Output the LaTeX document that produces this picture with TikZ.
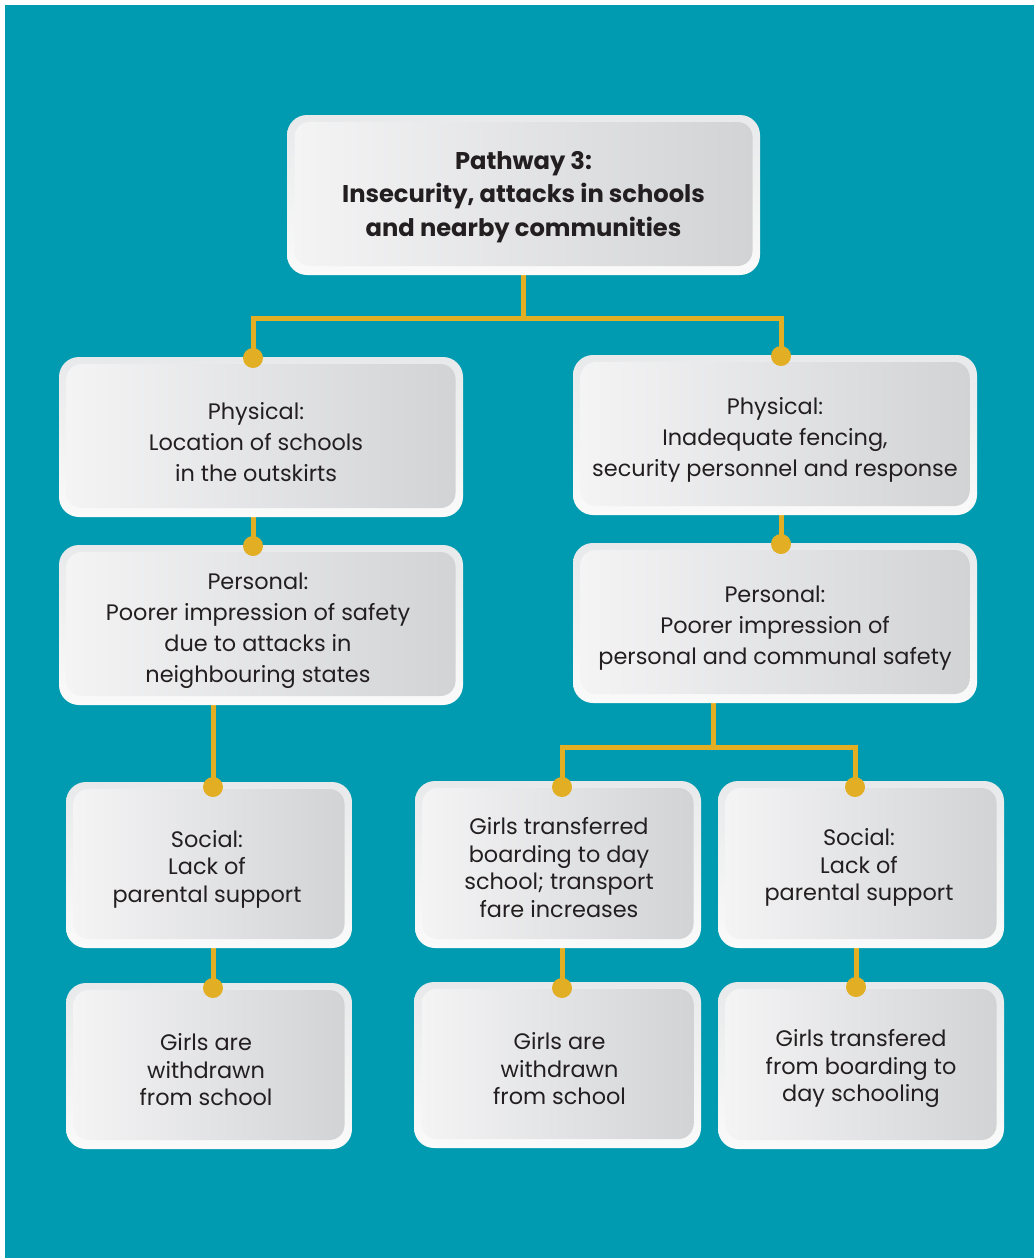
\documentclass[tikz,border=0pt]{standalone}
\usepackage{fontspec}
\setmainfont{Poppins}
\usetikzlibrary{calc}
\definecolor{teal}{HTML}{009BB0}
\definecolor{gold}{HTML}{E2AF24}
\definecolor{rimtop}{HTML}{E8E9EA}
\definecolor{rimbot}{HTML}{FAFAFA}
\definecolor{coreL}{HTML}{F4F4F5}
\definecolor{coreM}{HTML}{E5E6E7}
\definecolor{coreR}{HTML}{D2D3D5}
\definecolor{ink}{HTML}{231F20}
\tikzset{
  rim/.style={rounded corners=10pt, top color=rimtop, bottom color=rimbot, draw=none, inner sep=0pt},
  core/.style={rounded corners=7.5pt, left color=coreL, middle color=coreM, right color=coreR, draw=none, inner sep=0pt},
  txt/.style={text=ink, align=center, font=\fontsize{11.2}{15.5}\selectfont, inner sep=0pt},
  txtb/.style={text=ink, align=center, font=\fontsize{11.2}{13.75}\selectfont, inner sep=0pt},
  ttl/.style={text=ink, align=center, font=\fontsize{12.1}{16.8}\selectfont\bfseries, inner sep=0pt},
  link/.style={draw=gold, line width=2.5pt, line join=miter},
  dot/.style={circle, fill=gold, minimum size=10pt, inner sep=0pt, draw=none},
}
\newcommand\pbox[9]{% name, cx, cy, w, h, style, text dx, text dy, text
  \node[rim, minimum width={#4*0.5pt}, minimum height={#5*0.5pt}] (#1) at (#2,#3) {};
  \node[core, minimum width={(#4-15)*0.5pt}, minimum height={(#5-16)*0.5pt}] (#1i) at (#2,#3-1) {};
  \node[#6] (#1t) at (#2+#7,#3+#8) {#9};
}
\begin{document}
\begin{tikzpicture}[x=0.5pt,y=-0.5pt]
\useasboundingbox (0,0) rectangle (1034,1258);
\fill[white] (0,0) rectangle (1034,1258);
\fill[teal] (5,5) rectangle (1034,1258);

% coordinates for dots and junctions
\coordinate (jA) at (523,318);
\coordinate (jB) at (713,747);
\coordinate (dL1) at (253,358);
\coordinate (dR1) at (781,356);
\coordinate (dL2) at (253,546);
\coordinate (dR2) at (781,544);
\coordinate (dL3) at (213,787);
\coordinate (dM3) at (562,787);
\coordinate (dR3) at (855,787);
\coordinate (dL4) at (213,988);
\coordinate (dM4) at (562,988);
\coordinate (dR4) at (856,987);

% connectors (behind boxes)
\draw[link] (523,275) -- (jA);
\draw[link] (dL1) |- (jA) -| (dR1);
\draw[link] (253,517) -- (dL2);
\draw[link] (781,515) -- (dR2);
\draw[link] (213,705) -- (dL3);
\draw[link] (713,703) -- (jB);
\draw[link] (dM3) |- (jB) -| (dR3);
\draw[link] (213,948) -- (dL4);
\draw[link] (562,948) -- (dM4);
\draw[link] (856,948) -- (dR4);

\pbox{top}{523.5}{195}{473}{160}{ttl}{0}{2}{Pathway 3:\\Insecurity, attacks in schools\\and nearby communities}
\pbox{Lone}{261}{437}{404}{160}{txt}{-5}{5}{Physical:\\Location of schools\\in the outskirts}
\pbox{Rone}{775}{435}{404}{160}{txt}{0}{5}{Physical:\\Inadequate fencing,\\security personnel and response}
\pbox{Ltwo}{261}{625}{404}{160}{txt}{-3}{6}{Personal:\\Poorer impression of safety\\due to attacks in\\neighbouring states}
\pbox{Rtwo}{775}{623}{404}{160}{txt}{0}{5}{Personal:\\Poorer impression of\\personal and communal safety}
\pbox{Lthree}{209}{865}{286}{166}{txtb}{-2}{4}{Social:\\Lack of\\parental support}
\pbox{Mthree}{558}{864.5}{286}{167}{txtb}{1}{3}{Girls transferred\\boarding to day\\school; transport\\fare increases}
\pbox{Rthree}{861}{864.5}{286}{167}{txtb}{-2}{3}{Social:\\Lack of\\parental support}
\pbox{Lfour}{209}{1066}{286}{166}{txtb}{-3}{4}{Girls are\\withdrawn\\from school}
\pbox{Mfour}{557.5}{1065}{287}{166}{txtb}{2}{4}{Girls are\\withdrawn\\from school}
\pbox{Rfour}{861}{1065.5}{286}{167}{txtb}{0}{3}{Girls transfered\\from boarding to\\day schooling}

% dots on top
\foreach \d in {dL1,dR1,dL2,dR2,dL3,dM3,dR3,dL4,dM4,dR4}
  \node[dot] (\d n) at (\d) {};
\end{tikzpicture}
\end{document}
